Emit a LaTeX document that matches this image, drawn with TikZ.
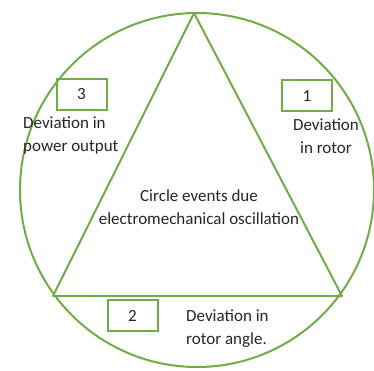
\documentclass[tikz,border=0pt]{standalone}
\usepackage{fontspec}
\setmainfont{Carlito}
\definecolor{ogreen}{RGB}{112,173,71}
\definecolor{txt}{RGB}{38,38,38}
\begin{document}
\begin{tikzpicture}[x=1pt,y=-1pt,
  gline/.style={draw=ogreen,line width=2pt},
  numbox/.style={draw=ogreen,line width=2pt,minimum width=50pt,minimum height=31pt,inner sep=0pt,font=\fontsize{17}{20}\selectfont,text=txt},
  lbl/.style={font=\fontsize{17}{23}\selectfont,text=txt,inner sep=0pt}]
\useasboundingbox (0,0) rectangle (374,371);
\node[gline,circle,minimum size=354pt,inner sep=0pt] (circ) at (197,190) {};
\coordinate (A) at (194,13);
\coordinate (B) at (53,296);
\coordinate (C) at (342,296);
\draw[gline,line join=round] (A) -- (B) -- (C) -- cycle;
\node[numbox] (b3) at (81.5,94.5) {3};
\node[numbox] (b1) at (307,96) {1};
\node[numbox] (b2) at (132.5,315.5) {2};
\node[lbl,align=left,anchor=west] (t3) at (23,135.5) {Deviation in\\power output};
\node[lbl,align=center] (t1) at (326,136.5) {Deviation\\in rotor};
\node[lbl,align=left,anchor=west] (t2) at (186,329) {Deviation in\\rotor angle.};
\node[lbl,align=center] (t0) at (199,207) {Circle events due\\electromechanical oscillation};
\end{tikzpicture}
\end{document}
